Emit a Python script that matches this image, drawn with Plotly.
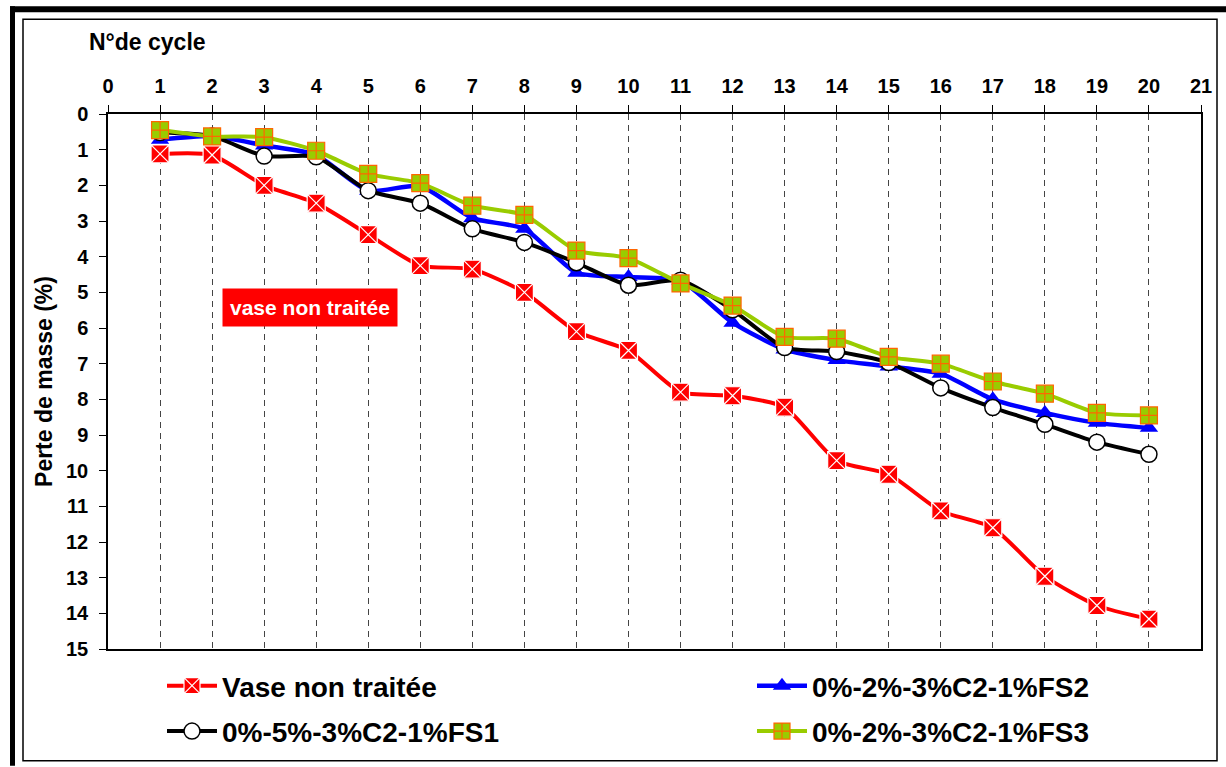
import plotly.graph_objects as go

# Cycle numbers and mass loss (%) per mix
cycles = list(range(1, 21))
vase_non_traitee = [1.12, 1.15, 2.0, 2.5, 3.38, 4.25, 4.35, 5.0, 6.1, 6.63,
                    7.8, 7.9, 8.22, 9.72, 10.1, 11.13, 11.6, 12.96, 13.78, 14.16]
fs2 = [0.72, 0.62, 0.88, 1.15, 2.15, 2.02, 2.92, 3.22, 4.45, 4.57,
       4.67, 5.85, 6.6, 6.9, 7.08, 7.28, 8.0, 8.38, 8.66, 8.8]
fs1 = [0.52, 0.62, 1.18, 1.2, 2.15, 2.5, 3.22, 3.6, 4.17, 4.8,
       4.66, 5.49, 6.55, 6.66, 6.97, 7.68, 8.23, 8.7, 9.2, 9.54]
fs3 = [0.45, 0.63, 0.65, 1.03, 1.68, 1.94, 2.57, 2.83, 3.83, 4.04,
       4.75, 5.37, 6.25, 6.3, 6.81, 7.0, 7.5, 7.84, 8.38, 8.45]

x_ticks = list(range(0, 22))
y_ticks = list(range(0, 16))

FONT = "Liberation Sans"
W, H = 1226, 767
ML, MR, MT, MB = 108, 25, 114, 117
PW, PH = W - ML - MR, H - MT - MB


def px_x(p):
    return (p - ML) / PW


def px_y(p):
    return (H - MB - p) / PH


fig = go.Figure()

line_shape = dict(shape="spline", smoothing=0.6)

fig.add_trace(go.Scatter(
    x=cycles, y=vase_non_traitee, name="Vase non traitée", mode="lines+markers",
    line=dict(color="#FF0000", width=4, **line_shape),
    marker=dict(symbol="square-x", size=18, color="#FF0000",
                line=dict(color="white", width=1.2)),
    legend="legend", legendgroup="a"))
fig.add_trace(go.Scatter(
    x=cycles, y=fs2, name="0%-2%-3%C2-1%FS2", mode="lines+markers",
    line=dict(color="#0000FF", width=4.5, **line_shape),
    marker=dict(symbol="triangle-up", size=16, color="#0000FF"),
    legend="legend2", legendgroup="b"))
fig.add_trace(go.Scatter(
    x=cycles, y=fs1, name="0%-5%-3%C2-1%FS1", mode="lines+markers",
    line=dict(color="#000000", width=4, **line_shape),
    marker=dict(symbol="circle", size=16, color="white",
                line=dict(color="black", width=1.5)),
    legend="legend", legendgroup="c"))
fig.add_trace(go.Scatter(
    x=cycles, y=fs3, name="0%-2%-3%C2-1%FS3", mode="lines+markers",
    line=dict(color="#99CC00", width=4, **line_shape),
    marker=dict(symbol="square-cross", size=17, color="#99CC00",
                line=dict(color="#FF6600", width=1.2)),
    legend="legend2", legendgroup="d"))

# Red label inside the plot
fig.add_annotation(
    x=3.88, y=5.43, xref="x", yref="y", text="<b>vase non traitée</b>",
    showarrow=False, bgcolor="#FF0000", borderpad=7,
    font=dict(family=FONT, size=21, color="white"))

# Axis caption above the cycle ticks
fig.add_annotation(
    x=px_x(87), y=px_y(42), xref="paper", yref="paper", text="<b>N°de cycle</b>",
    showarrow=False, xanchor="left", yanchor="middle",
    font=dict(family=FONT, size=23, color="black"))

# Outer frame: heavy top/left rules and a thin inner box
fig.add_shape(type="line", xref="paper", yref="paper",
              x0=px_x(10), x1=px_x(1226), y0=px_y(9), y1=px_y(9),
              line=dict(color="black", width=6))
fig.add_shape(type="line", xref="paper", yref="paper",
              x0=px_x(12.5), x1=px_x(12.5), y0=px_y(6), y1=px_y(767),
              line=dict(color="black", width=5))
fig.add_shape(type="rect", xref="paper", yref="paper",
              x0=px_x(23), x1=px_x(1217), y0=px_y(19), y1=px_y(762),
              line=dict(color="black", width=1.5))

tick_font = dict(family=FONT, size=20, color="black", weight="bold")
legend_font = dict(family=FONT, size=28, color="black", weight="bold")

fig.update_layout(
    width=W, height=H,
    margin=dict(l=ML, r=MR, t=MT, b=MB),
    paper_bgcolor="white", plot_bgcolor="white",
    xaxis=dict(
        side="top", range=[0, 21], tickmode="array", tickvals=x_ticks,
        ticktext=[str(v) for v in x_ticks],
        ticks="outside", ticklen=7, tickcolor="black", tickwidth=1,
        showline=True, linecolor="black", linewidth=1.5, mirror=True,
        showgrid=True, gridcolor="#444444", gridwidth=1, griddash="6px,5px",
        zeroline=False, tickfont=tick_font, ticklabelstandoff=4),
    yaxis=dict(
        range=[15, 0], tickmode="array", tickvals=y_ticks,
        ticktext=[str(v) for v in y_ticks],
        ticks="outside", ticklen=7, tickcolor="black", tickwidth=1,
        showline=True, linecolor="black", linewidth=1.5, mirror=True,
        showgrid=False, zeroline=False, tickfont=tick_font, ticklabelstandoff=7,
        title=dict(text="Perte de masse (%)", standoff=7,
                   font=dict(family=FONT, size=23, color="black", weight="bold"))),
    legend=dict(
        x=px_x(162), y=px_y(661), xanchor="left", yanchor="top",
        orientation="v", itemwidth=50, tracegroupgap=6,
        font=legend_font, bgcolor="rgba(0,0,0,0)"),
    legend2=dict(
        x=px_x(752), y=px_y(661), xanchor="left", yanchor="top",
        orientation="v", itemwidth=50, tracegroupgap=6,
        font=legend_font, bgcolor="rgba(0,0,0,0)"),
)

fig.write_html("out.html")
